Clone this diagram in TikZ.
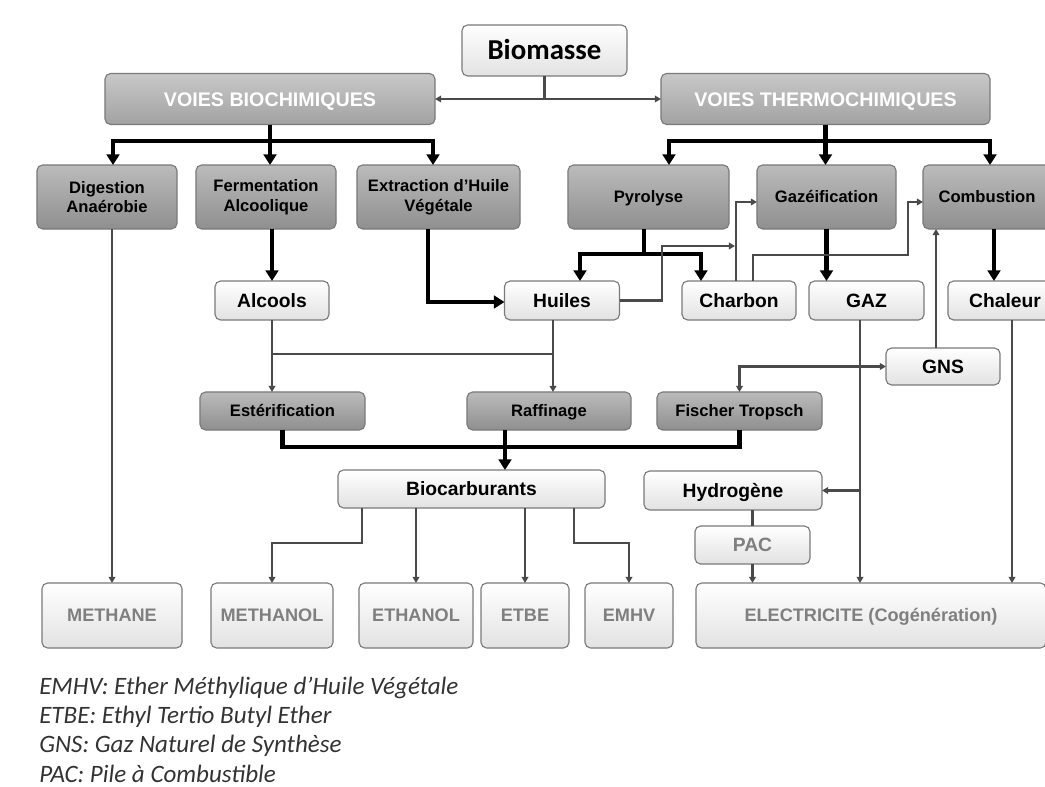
\documentclass[tikz,border=0pt]{standalone}
\usepackage{fontspec}
\setsansfont{Liberation Sans}
\newfontfamily\calibri{Carlito}
\usetikzlibrary{arrows.meta}

\definecolor{voietop}{HTML}{C8C8C8}
\definecolor{voiebot}{HTML}{A2A2A2}
\definecolor{proctop}{HTML}{BBBBBB}
\definecolor{procbot}{HTML}{8F8F8F}
\definecolor{whitebot}{HTML}{E2E2E2}
\definecolor{boxline}{HTML}{7A7A7A}
\definecolor{flowgray}{HTML}{4A4A4A}
\definecolor{outtext}{HTML}{7F7F7F}

\begin{document}
\begin{tikzpicture}[x=0.025cm,y=-0.025cm]
  \tikzset{box/.style = {rounded corners=4pt, draw=boxline, line width=0.8pt, inner sep=2pt, outer sep=0pt, align=center, text height=8.5pt, text depth=0pt, font=\sffamily\bfseries\fontsize{11.8}{14}\selectfont}}
  \tikzset{twoline/.style = {text height={}, text depth={}}}
  \tikzset{voie/.style = {box, top color=voietop, bottom color=voiebot, text=white, minimum height=1.275cm, text height=10pt, font=\sffamily\bfseries\fontsize{14}{16}\selectfont}}
  \tikzset{proc/.style = {box, top color=proctop, bottom color=procbot}}
  \tikzset{prod/.style = {box, top color=white, bottom color=whitebot, minimum height=0.975cm, text height=9.8pt, font=\sffamily\bfseries\fontsize{13.7}{16}\selectfont}}
  \tikzset{final/.style = {box, top color=white, bottom color=whitebot, text=outtext, minimum height=1.625cm, text height=9.2pt, font=\sffamily\bfseries\fontsize{12.9}{15}\selectfont}}
  \tikzset{legend/.style = {anchor=base west, inner sep=0pt, text=black!80, font=\calibri\itshape\fontsize{17.8}{21}\selectfont}}
  \tikzset{mainflow/.style = {line width=3.2pt, black, -{Triangle[width=9pt,length=7.5pt]}}}
  \tikzset{flowline/.style = {line width=1.5pt, flowgray}}
  \tikzset{flow/.style = {flowline, -{Triangle[width=4.8pt,length=4.4pt]}}}

\useasboundingbox (0,0) rectangle (1045,787);

% top
\node[box, top color=white, bottom color=whitebot, minimum width=4.125cm, minimum height=1.275cm, text height=13.2pt, font=\calibri\bfseries\fontsize{20.5}{24}\selectfont] (bio) at (544.5,50.5) {Biomasse};
\node[voie, minimum width=8.25cm] (vbio) at (270,99) {VOIES BIOCHIMIQUES};
\node[voie, minimum width=8.225cm] (vthermo) at (825.5,99) {VOIES THERMOCHIMIQUES};

% procedes
\node[proc, twoline, minimum width=3.5cm, minimum height=1.6cm] (dig) at (107,197) {Digestion\\Anaérobie};
\node[proc, twoline, minimum width=3.5cm, minimum height=1.6cm] (ferm) at (266,197) {Fermentation\\Alcoolique};
\node[proc, twoline, minimum width=4.075cm, minimum height=1.6cm] (extr) at (438.5,197) {Extraction d'Huile\\Végétale};
\node[proc, minimum width=4.025cm, minimum height=1.6cm] (pyro) at (648.5,197) {Pyrolyse};
\node[proc, minimum width=3.475cm, minimum height=1.6cm] (gazei) at (826.5,197) {Gazéification};
\node[proc, minimum width=3.2cm, minimum height=1.6cm] (comb) at (987,197) {Combustion};

% produits
\node[prod, minimum width=2.85cm] (alc) at (272,300.5) {Alcools};
\node[prod, minimum width=2.875cm] (huil) at (562,300.5) {Huiles};
\node[prod, minimum width=2.85cm] (charb) at (739,300.5) {Charbon};
\node[prod, minimum width=2.875cm] (gaz) at (866.5,300.5) {GAZ};
\node[prod, minimum width=2.85cm] (chal) at (1005,300.5) {Chaleur};
\node[prod, minimum width=2.85cm, minimum height=0.925cm] (gns) at (943,366.5) {GNS};

\node[proc, minimum width=4.125cm, minimum height=0.95cm] (est) at (282.5,411) {Estérification};
\node[proc, minimum width=4.1cm, minimum height=0.95cm] (raff) at (549,411) {Raffinage};
\node[proc, minimum width=4.125cm, minimum height=0.95cm] (fisch) at (739.5,411) {Fischer Tropsch};

\node[prod, minimum width=6.675cm, minimum height=0.95cm] (biocarb) at (471.5,489) {Biocarburants};
\node[prod, minimum width=4.45cm] (hydro) at (733,490.5) {Hydrogène};
\node[prod, minimum width=2.875cm, minimum height=0.95cm, text=outtext] (pac) at (752.5,545) {PAC};

% finaux
\node[final, minimum width=3.5cm] (meth) at (112,615.5) {METHANE};
\node[final, minimum width=3.05cm] (methol) at (272,615.5) {METHANOL};
\node[final, minimum width=2.85cm] (ethol) at (416,615.5) {ETHANOL};
\node[final, minimum width=2.2cm] (etbe) at (525,615.5) {ETBE};
\node[final, minimum width=2.2cm] (emhv) at (629,615.5) {EMHV};
\node[final, minimum width=8.75cm] (elec) at (871,615.5) {ELECTRICITE (Cogénération)};

% legende
\node[legend] (leg1) at (39,694) {EMHV: Ether Méthylique d’Huile Végétale};
\node[legend] (leg2) at (39,723.3) {ETBE: Ethyl Tertio Butyl Ether};
\node[legend] (leg3) at (39,752.7) {GNS: Gaz Naturel de Synthèse};
\node[legend] (leg4) at (39,782) {PAC: Pile à Combustible};

% jonctions
\coordinate (jd) at (113,141);
\coordinate (je) at (433,141);
\coordinate (jp) at (669,141);
\coordinate (jc) at (990,141);
\coordinate (jpy) at (644,254);
\coordinate (jph) at (580,254);
\coordinate (jpc) at (701,254);
\coordinate (jx) at (428,302);
\coordinate (jh1) at (662,246);
\coordinate (jh2) at (735,246);
\coordinate (jc1) at (736,202);
\coordinate (jc2) at (753,255);
\coordinate (jc3) at (908,202);
\coordinate (jch) at (994,0);
\coordinate (jg) at (936,0);
\coordinate (jcl) at (1012,0);
\coordinate (jgz) at (860,490.5);
\coordinate (jah) at (553,354);
\coordinate (jb) at (505,447);
\coordinate (jm) at (362,543);
\coordinate (jv) at (574,543);

% biomasse
\draw[flowline] (bio.south) -- (bio.south |- vbio.east);
\draw[flowline, {Triangle[width=4.8pt,length=4.4pt]}-{Triangle[width=4.8pt,length=4.4pt]}] (vbio.east) -- (vthermo.west);

% voies biochimiques
\draw[mainflow] (vbio.south) |- (jd) -- (jd |- dig.north);
\draw[mainflow] (vbio.south) -- (vbio.south |- ferm.north);
\draw[mainflow] (vbio.south) |- (je) -- (je |- extr.north);
\draw[mainflow] (alc.north |- ferm.south) -- (alc.north);
\draw[mainflow] (jx |- extr.south) -- (jx) -- (huil.west |- jx);
\draw[flow] (meth.north |- dig.south) -- (meth.north);

% voies thermochimiques
\draw[mainflow] (vthermo.south) |- (jp) -- (jp |- pyro.north);
\draw[mainflow] (vthermo.south) -- (vthermo.south |- gazei.north);
\draw[mainflow] (vthermo.south) |- (jc) -- (jc |- comb.north);
\draw[mainflow] (jpy |- pyro.south) |- (jph) -- (jph |- huil.north);
\draw[mainflow] (jpy |- pyro.south) |- (jpc) -- (jpc |- charb.north);
\draw[mainflow] (gazei.south) -- (gazei.south |- gaz.north);
\draw[mainflow] (jch |- comb.south) -- (jch |- chal.north);

\draw[flow] (huil.east) -| (jh1) -- (jh2);
\draw[flow] (jc1 |- charb.north) -- (jc1) -- (gazei.west |- jc1);
\draw[flow] (jc2 |- charb.north) -- (jc2) -| (jc3) -- (comb.west |- jc3);
\draw[flow] (jg |- gns.north) -- (jg |- comb.south);
\draw[flowline, {Triangle[width=4.8pt,length=4.4pt]}-{Triangle[width=4.8pt,length=4.4pt]}] (gns.west) -| (fisch.north);

% vers biocarburants
\draw[flow] (alc.south) -- (alc.south |- est.north);
\draw[flowline] (jah) -- (jah -| alc.south);
\draw[flow] (jah |- huil.south) -- (jah |- raff.north);
\draw[mainflow, -] (est.south) |- (jb) -| (fisch.south);
\draw[mainflow] (jb |- raff.south) -- (jb |- biocarb.north);

\draw[flow] (jm |- biocarb.south) -- (jm) -| (methol.north);
\draw[flow] (ethol.north |- biocarb.south) -- (ethol.north);
\draw[flow] (etbe.north |- biocarb.south) -- (etbe.north);
\draw[flow] (jv |- biocarb.south) -- (jv) -| (emhv.north);

% electricite
\draw[flow] (jgz |- gaz.south) -- (jgz |- elec.north);
\draw[flow] (jgz) -- (hydro.east);
\draw[flowline] (pac.north) -- (pac.north |- hydro.south);
\draw[flow] (pac.south) -- (pac.south |- elec.north);
\draw[flow] (jcl |- chal.south) -- (jcl |- elec.north);

\end{tikzpicture}
\end{document}
